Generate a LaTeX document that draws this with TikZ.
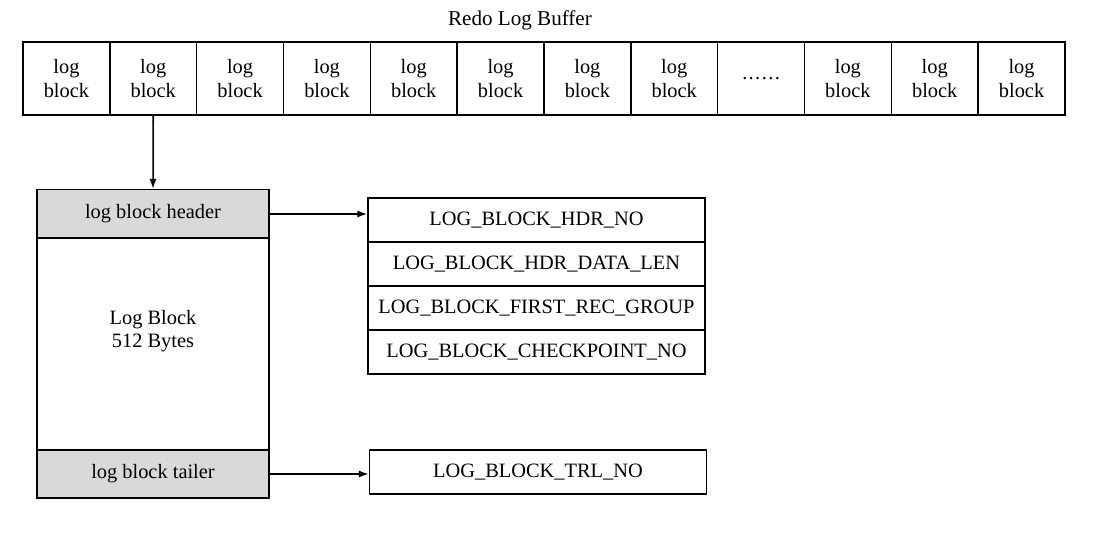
\documentclass[tikz,border=0pt]{standalone}
\usepackage{fontspec}
\setmainfont{Liberation Serif}
\usetikzlibrary{arrows.meta}
\tikzset{
  cellbox/.style={draw, line width=1pt, minimum width=2.17cm, minimum height=1.825cm,
    align=center, inner sep=0pt, font=\fontsize{14.5}{16.5}\selectfont},
  partbox/.style={draw, line width=1pt, minimum width=5.8cm, inner sep=0pt,
    font=\fontsize{14.5}{16.5}\selectfont},
  fieldbox/.style={draw, line width=1pt, minimum width=8.425cm, minimum height=1.1cm,
    inner sep=0pt, font=\fontsize{14.5}{16.5}\selectfont},
  link/.style={line width=1.1pt, -{Latex[length=7pt,width=5pt]}}
}
\begin{document}
\begin{tikzpicture}[x=0.025cm, y=-0.025cm]
   \useasboundingbox (0,0) rectangle (1102,540);
   % buffer row
   \node[font=\fontsize{15}{17}\selectfont] (title) at (520,20) {Redo Log Buffer};
   \foreach \i in {1,...,8,10,11,12}
     \node[cellbox] (cell\i) at ({23+86.83*(\i-0.5)},78.5) {log\\block};
   \node[cellbox] (cell9) at ({23+86.83*8.5},78.5) {.\kern1pt.\kern1pt.\kern1pt.\kern1pt.\kern1pt.};
   % log block
   \node[partbox, fill=gray!30, minimum height=1.225cm] (header) at (153,214) {log block header};
   \node[partbox, minimum height=5.3cm, align=center] (body) at (153,344) {};
   \node[font=\fontsize{14.5}{16.5}\selectfont, align=center] (size) at (153,331) {Log Block\\512 Bytes};
   \node[partbox, fill=gray!30, minimum height=1.2cm] (tailer) at (153,474) {log block tailer};
   % fields
   \node[fieldbox] (hdrno) at (536.5,220) {LOG\_BLOCK\_HDR\_NO};
   \node[fieldbox] (datalen) at (536.5,264) {LOG\_BLOCK\_HDR\_DATA\_LEN};
   \node[fieldbox] (firstrec) at (536.5,308) {LOG\_BLOCK\_FIRST\_REC\_GROUP};
   \node[fieldbox] (chkno) at (536.5,352) {LOG\_BLOCK\_CHECKPOINT\_NO};
   \node[fieldbox] (trlno) at (538,472) {LOG\_BLOCK\_TRL\_NO};
   % arrows
   \draw[link] (cell2.south) -- (header.north);
   \draw[link] (header.east) -- (header.east -| hdrno.west);
   \draw[link] (tailer.east) -- (tailer.east -| trlno.west);
\end{tikzpicture}
\end{document}
